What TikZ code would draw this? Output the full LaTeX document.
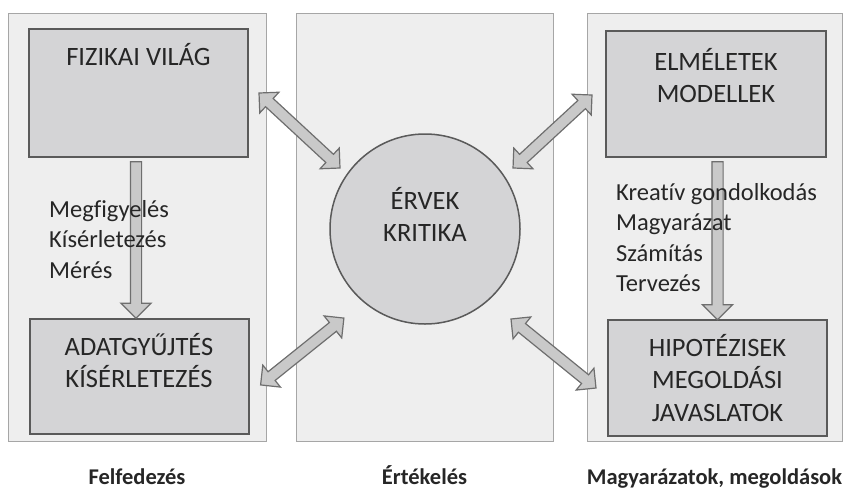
\documentclass[tikz,border=0pt]{standalone}
\usepackage{fontspec}
\setmainfont{Carlito}[Ligatures=NoCommon]
\usetikzlibrary{calc,shapes.arrows}

\definecolor{panelfill}{HTML}{EEEEEE}
\definecolor{panelline}{HTML}{A6A6A6}
\definecolor{boxfill}{HTML}{D4D4D6}
\definecolor{boxline}{HTML}{5A5A5A}
\definecolor{arrowfill}{HTML}{C9C9C9}
\definecolor{arrowline}{HTML}{6E6E6E}
\definecolor{inktext}{HTML}{262626}

% block arrow between two named points: #1 shape, #2 tail, #3 tip
\newcommand\blockarrow[3]{%
  \path let \p1=($(#3)-(#2)$), \n1={atan2(\y1,\x1)}, \n2={veclen(\x1,\y1)} in
    node[arrowbody, #1, rotate=\n1, minimum height=\n2] at ($(#2)!0.5!(#3)$) {};}

\begin{document}
\begin{tikzpicture}[x=1pt, y=-1pt,
    panel/.style={draw=panelline, fill=panelfill, line width=1pt, minimum height=428pt, inner sep=0pt},
    box/.style={draw=boxline, fill=boxfill, line width=2pt, inner sep=0pt},
    boxtext/.style={font=\fontsize{26.5}{32.5}\selectfont, text=inktext, align=center, inner sep=0pt, anchor=north},
    sidetext/.style={font=\fontsize{24.5}{30.5}\selectfont, text=inktext, align=left, inner sep=0pt, anchor=north west},
    caption/.style={font=\fontsize{22.5}{27}\selectfont\bfseries, text=inktext, inner sep=0pt, anchor=base},
    arrowbody/.style={draw=arrowline, fill=arrowfill, line width=1.2pt, inner xsep=0pt, inner ysep=5pt,
        single arrow head extend=9.5pt, double arrow head extend=8.5pt}]
    \useasboundingbox (0,0) rectangle (845,501);

    % Draw the three panels
    \node[panel, minimum width=258pt] (felf) at (137,227) {};
    \node[panel, minimum width=257pt] (ertek) at (424.5,227) {};
    \node[panel, minimum width=255pt] (magy) at (714.5,227) {};

    % Draw the boxes and the circle
    \node[box, minimum width=219pt, minimum height=128pt] (fiz) at (138.5,93) {};
    \node[box, minimum width=219pt, minimum height=115pt] (adat) at (139,376.5) {};
    \node[box, minimum width=220pt, minimum height=126pt] (elm) at (716,94) {};
    \node[box, minimum width=219pt, minimum height=116pt] (hip) at (717.5,378) {};
    \node[box, circle, minimum size=190pt, line width=1.5pt] (circ) at (425,229) {};

    % Arrow ends
    \coordinate (fizout) at ($(fiz.east)+(10,0)$);
    \coordinate (adatout) at ($(adat.east)+(11,8.5)$);
    \coordinate (elmout) at ($(elm.west)+(-13,1)$);
    \coordinate (hipout) at ($(hip.west)+(-11,10)$);
    \coordinate (circtl) at ($(circ.center)+(-85,-61)$);
    \coordinate (circbl) at ($(circ.center)+(-81,89)$);
    \coordinate (circtr) at ($(circ.center)+(88,-61)$);
    \coordinate (circbr) at ($(circ.center)+(86,90)$);
    \coordinate (fizdown) at ($(fiz.south)+(-2.5,1)$);
    \coordinate (adatup) at ($(adat.north)+(-3,-2.5)$);
    \coordinate (elmdown) at ($(elm.south)+(1.5,1)$);
    \coordinate (hipup) at ($(hip.north)+(0,-2)$);

    % Draw the arrows
    \blockarrow{double arrow}{fizout}{circtl}
    \blockarrow{double arrow}{adatout}{circbl}
    \blockarrow{double arrow}{circtr}{elmout}
    \blockarrow{double arrow}{circbr}{hipout}
    \blockarrow{single arrow}{fizdown}{adatup}
    \blockarrow{single arrow}{elmdown}{hipup}

    % Texts in the boxes
    \node[boxtext] (fiztext) at ($(fiz.north)+(0,15)$) {FIZIKAI VILÁG};
    \node[boxtext] (adattext) at ($(adat.north)+(0,15)$) {ADATGYŰJTÉS\\KÍSÉRLETEZÉS};
    \node[boxtext] (elmtext) at ($(elm.north)+(0,18)$) {ELMÉLETEK\\MODELLEK};
    \node[boxtext] (hiptext) at ($(hip.north)+(0,15)$) {HIPOTÉZISEK\\MEGOLDÁSI\\JAVASLATOK};
    \node[boxtext] (circtext) at ($(circ.center)+(0,-42)$) {ÉRVEK\\KRITIKA};

    % Texts beside the arrows
    \node[sidetext] (obs) at (49,200) {Megfigyelés\\Kísérletezés\\Mérés};
    \node[sidetext] (theo) at (616,183) {Kreatív gondolkodás\\Magyarázat\\Számítás\\Tervezés};

    % Panel captions
    \node[caption] (felfcap) at (137,484) {Felfedezés};
    \node[caption] (ertekcap) at (424.5,484) {Értékelés};
    \node[caption] (magycap) at (714.5,484) {Magyarázatok, megoldások};
\end{tikzpicture}
\end{document}
